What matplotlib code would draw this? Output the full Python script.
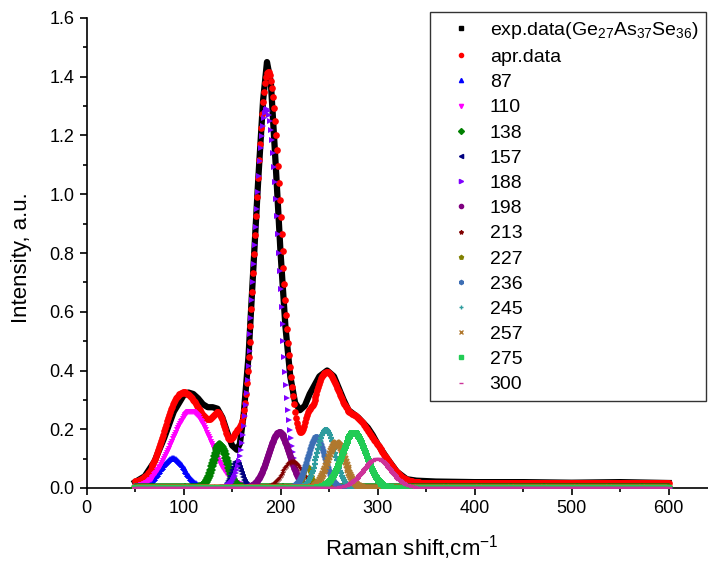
import numpy as np
import matplotlib
matplotlib.use("Agg")
import matplotlib.pyplot as plt
from matplotlib.lines import Line2D

plt.rcParams.update({
    "font.family": "Liberation Sans",
    "mathtext.fontset": "custom",
    "mathtext.rm": "Liberation Sans",
    "mathtext.it": "Liberation Sans:italic",
    "mathtext.bf": "Liberation Sans:bold",
})

exp_x = [50, 60, 70, 80, 90, 100, 105, 110, 115, 120, 125, 130, 135, 140, 145,
         150, 155, 158, 162, 167, 172, 177, 182, 186, 190, 195, 200, 205, 210,
         215, 220, 225, 230, 240, 248, 255, 260, 265, 270, 280, 290, 295, 300,
         310, 320, 330, 340, 360, 400, 450, 500, 550, 600]
exp_y = [0.02, 0.04, 0.09, 0.17, 0.26, 0.315, 0.325, 0.32, 0.305, 0.285, 0.275,
         0.275, 0.27, 0.24, 0.19, 0.145, 0.13, 0.15, 0.25, 0.45, 0.75, 1.05,
         1.32, 1.45, 1.38, 1.1, 0.8, 0.55, 0.38, 0.29, 0.265, 0.28, 0.32, 0.38,
         0.40, 0.38, 0.34, 0.30, 0.265, 0.24, 0.205, 0.18, 0.15, 0.10, 0.055,
         0.03, 0.025, 0.022, 0.02, 0.02, 0.018, 0.02, 0.017]

# --- fitted gaussian components (center, height, sigma) --- #
labels = ["87", "110", "138", "157", "188", "198", "213", "227", "236", "245",
          "257", "275", "300"]
centers = [89, 108, 137.8, 154.3, 185.8, 198.3, 212.7, 227.5, 236.7, 247,
           257.7, 276, 300]
heights = [0.101, 0.26, 0.146, 0.09, 1.29, 0.19, 0.09, 0.073, 0.174, 0.198,
           0.153, 0.188, 0.099]
sigmas = [12.4, 20, 7.5, 5, 12.5, 11, 10, 4, 9, 9, 9, 12.4, 14]
baseline = 0.018

colors = ["#0000FF", "#FF00FF", "#008000", "#000080", "#8000FF", "#800080",
          "#800000", "#808000", "#3D6EB4", "#2E9C9E", "#B0782E", "#22CC55",
          "#CC3399"]
markers = ["^", "v", "D", "<", ">", "o", "*", "p", "h", "+", "x", "s", "_"]

x = np.arange(50, 601, 1.0)
comps = [h * np.exp(-(x - c) ** 2 / (2 * s ** 2))
         for c, h, s in zip(centers, heights, sigmas)]
apr = baseline + np.sum(comps, axis=0)

fig = plt.figure(figsize=(7.08, 5.62), dpi=100)
ax = fig.add_axes([86.5 / 708, 74 / 562, 621 / 708, 470 / 562])

ax.plot(exp_x, exp_y, color="black", lw=4.5, zorder=2)
ax.plot(x, apr, "o", color="red", ms=4.8, mew=0, zorder=3)
for i in range(len(comps)):
    mew = 1.6 if markers[i] in ["+", "x", "_"] else 0
    ax.plot(x, comps[i], markers[i], color=colors[i], ms=5, mew=mew,
            mec=colors[i], zorder=4)

ax.set_xlim(0, 640)
ax.set_ylim(0, 1.6)
ax.spines["top"].set_visible(False)
ax.spines["right"].set_visible(False)
for s in ["left", "bottom"]:
    ax.spines[s].set_linewidth(1.2)
ax.set_xticks(np.arange(0, 601, 100))
ax.set_xticks(np.arange(50, 601, 100), minor=True)
ax.set_yticks(np.arange(0, 1.61, 0.2))
ax.set_yticks(np.arange(0.1, 1.6, 0.2), minor=True)
ax.set_yticklabels([f"{v:.1f}" for v in np.arange(0, 1.61, 0.2)])
ax.tick_params(which="major", direction="out", length=5, width=1.2,
               labelsize=13)
ax.tick_params(which="minor", direction="out", length=3, width=1.2)

fig.text(412 / 708, 1 - 548 / 562, "Raman shift,cm$^{-1}$", fontsize=16,
         ha="center", va="center")
fig.text(22 / 708, 1 - 258 / 562, "Intensity, a.u.", fontsize=16,
         ha="center", va="center", rotation=90)

handles = [Line2D([], [], ls="none", marker="s", color="black", ms=3),
           Line2D([], [], ls="none", marker="o", color="red", ms=3)]
for i in range(len(labels)):
    handles.append(Line2D([], [], ls="none", marker=markers[i],
                          color=colors[i], ms=3, mew=1))
leg = fig.legend(handles,
                 ["exp.data(Ge$_{27}$As$_{37}$Se$_{36}$)", "apr.data"] + labels,
                 loc="upper left", bbox_to_anchor=(430 / 708, 550 / 562),
                 fontsize=14, frameon=True, fancybox=False, borderpad=0.4,
                 handlelength=2.37, handletextpad=0.3, labelspacing=0.39,
                 borderaxespad=0)
leg.get_frame().set_edgecolor("black")
leg.get_frame().set_linewidth(1.0)

fig.savefig("out.png", dpi=100)
